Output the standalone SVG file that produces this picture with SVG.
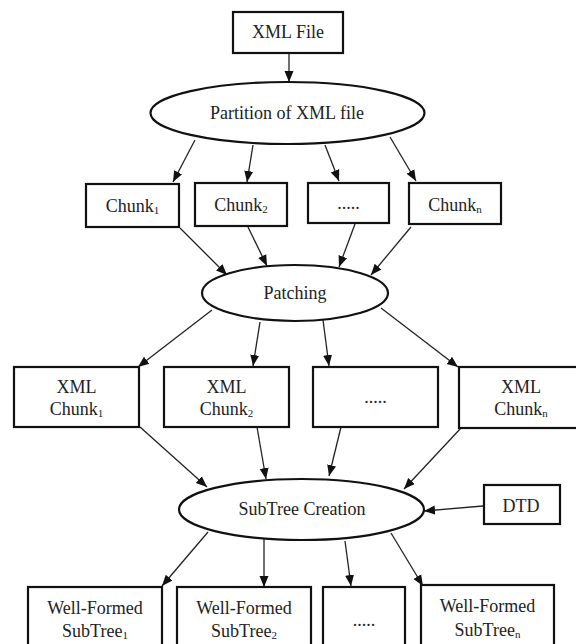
<svg xmlns="http://www.w3.org/2000/svg" width="576" height="644" viewBox="0 0 576 644">
<style>
.box{fill:#fff;stroke:#111;stroke-width:2.2}
.ell{fill:#fff;stroke:#111;stroke-width:2.2}
.t{font-family:"Liberation Serif","Times New Roman",serif;font-size:18px;fill:#222;text-anchor:middle}
.s{font-size:11px}
.c line{stroke:#222;stroke-width:1.3;marker-end:url(#ah)}
</style>
<defs>
<marker id="ah" markerUnits="userSpaceOnUse" markerWidth="12" markerHeight="12" viewBox="0 0 12 12" refX="11" refY="6" orient="auto">
<path d="M0,1.5 L11,6 L0,10.5 Z" fill="#111"/>
</marker>
</defs>
<rect width="576" height="644" fill="#fff"/>
<g class="c" id="connectors">
<line x1="289" y1="54" x2="289" y2="82"/>
<line x1="195" y1="140" x2="173" y2="182"/>
<line x1="253" y1="145" x2="247" y2="182"/>
<line x1="325" y1="145" x2="339" y2="181"/>
<line x1="390" y1="137" x2="416" y2="181"/>
<line x1="180" y1="228" x2="227" y2="275"/>
<line x1="248" y1="227" x2="267" y2="266"/>
<line x1="355" y1="224" x2="339" y2="267"/>
<line x1="411" y1="227" x2="371" y2="275"/>
<line x1="212" y1="310" x2="138" y2="367"/>
<line x1="260" y1="322" x2="253" y2="366"/>
<line x1="323" y1="320" x2="329" y2="366"/>
<line x1="381" y1="308" x2="458" y2="367"/>
<line x1="140" y1="427" x2="207" y2="487"/>
<line x1="257" y1="427" x2="266" y2="479"/>
<line x1="341" y1="427" x2="329" y2="476"/>
<line x1="461" y1="428" x2="404" y2="489"/>
<line x1="483" y1="506" x2="424" y2="511"/>
<line x1="208" y1="532" x2="162" y2="586"/>
<line x1="264" y1="539" x2="264" y2="587"/>
<line x1="345" y1="541" x2="351" y2="586"/>
<line x1="391" y1="533" x2="423" y2="586"/>
</g>
<g id="xmlfile"><rect class="box" x="233" y="12" width="110" height="41"/><text class="t" x="288" y="38">XML File</text></g>
<g id="partition"><ellipse class="ell" cx="287.5" cy="113" rx="137" ry="31"/><text class="t" x="287" y="119">Partition of XML file</text></g>
<g id="chunk1"><rect class="box" x="86" y="184" width="93" height="43"/><text class="t" x="132.5" y="212">Chunk<tspan class="s" dy="2">1</tspan></text></g>
<g id="chunk2"><rect class="box" x="195" y="183" width="92" height="43"/><text class="t" x="241" y="211">Chunk<tspan class="s" dy="2">2</tspan></text></g>
<g id="chunkdots"><rect class="box" x="308" y="183" width="81" height="40"/><text class="t" x="348.5" y="209">.....</text></g>
<g id="chunkn"><rect class="box" x="409" y="183" width="92" height="41"/><text class="t" x="455" y="211">Chunk<tspan class="s" dy="2">n</tspan></text></g>
<g id="patching"><ellipse class="ell" cx="295" cy="293" rx="93" ry="28"/><text class="t" x="295" y="299">Patching</text></g>
<g id="xmlchunk1"><rect class="box" x="14" y="367" width="125" height="60"/><text class="t" x="76.5" y="393">XML</text><text class="t" x="76.5" y="415">Chunk<tspan class="s" dy="2">1</tspan></text></g>
<g id="xmlchunk2"><rect class="box" x="164" y="367" width="125" height="60"/><text class="t" x="226.5" y="393">XML</text><text class="t" x="226.5" y="415">Chunk<tspan class="s" dy="2">2</tspan></text></g>
<g id="xmlchunkdots"><rect class="box" x="313" y="367" width="125" height="60"/><text class="t" x="375.5" y="403">.....</text></g>
<g id="xmlchunkn"><rect class="box" x="459" y="367" width="125" height="61"/><text class="t" x="521" y="393">XML</text><text class="t" x="521" y="415">Chunk<tspan class="s" dy="2">n</tspan></text></g>
<g id="subtree"><ellipse class="ell" cx="301.5" cy="509.5" rx="122.5" ry="30.5"/><text class="t" x="302" y="515">SubTree Creation</text></g>
<g id="dtd"><rect class="box" x="484" y="485" width="76" height="39"/><text class="t" x="521" y="512">DTD</text></g>
<g id="wf1"><rect class="box" x="28" y="587" width="134" height="70"/><text class="t" x="95" y="614">Well-Formed</text><text class="t" x="95" y="637">SubTree<tspan class="s" dy="2">1</tspan></text></g>
<g id="wf2"><rect class="box" x="177" y="587" width="134" height="70"/><text class="t" x="244" y="614">Well-Formed</text><text class="t" x="244" y="637">SubTree<tspan class="s" dy="2">2</tspan></text></g>
<g id="wfdots"><rect class="box" x="323" y="587" width="82" height="70"/><text class="t" x="364" y="626">.....</text></g>
<g id="wfn"><rect class="box" x="421" y="585" width="133" height="72"/><text class="t" x="487.5" y="612">Well-Formed</text><text class="t" x="487.5" y="636">SubTree<tspan class="s" dy="2">n</tspan></text></g>
</svg>
